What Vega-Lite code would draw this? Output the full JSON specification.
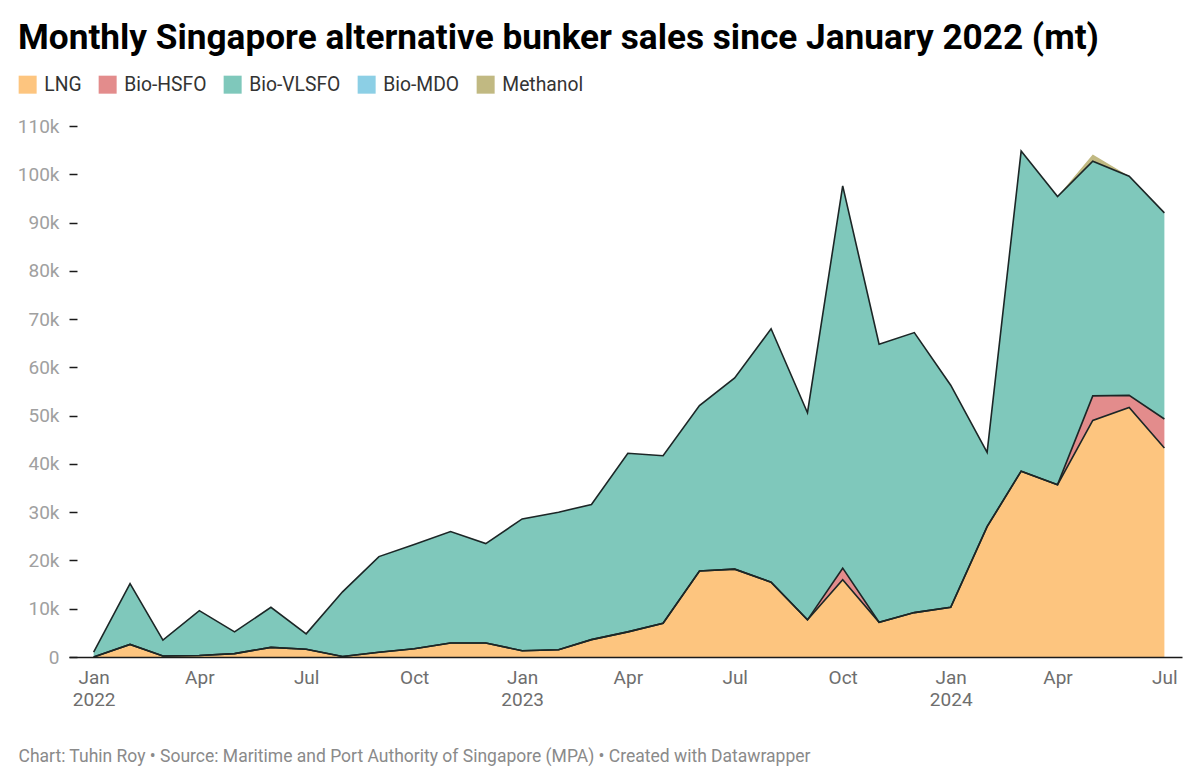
{
  "$schema": "https://vega.github.io/schema/vega-lite/v6.json",
  "width": 1113,
  "height": 531,
  "autosize": "none",
  "padding": {"left": 69, "top": 126, "right": 18, "bottom": 125},
  "background": "white",
  "config": {
    "view": {"stroke": null},
    "font": "Roboto"
  },
  "title": {
    "text": "Monthly Singapore alternative bunker sales since January 2022 (mt)",
    "anchor": "start",
    "frame": "group",
    "dx": -51,
    "font": "Roboto",
    "fontSize": 35.2,
    "fontWeight": "bold",
    "color": "#000000",
    "baseline": "alphabetic",
    "offset": -9
  },
  "data": {
    "values": [
      {"month": "2022-01-01", "LNG": 0, "Bio-HSFO": 0, "Bio-VLSFO": 1000, "Bio-MDO": 0, "Methanol": 0},
      {"month": "2022-02-01", "LNG": 2600, "Bio-HSFO": 0, "Bio-VLSFO": 12600, "Bio-MDO": 0, "Methanol": 0},
      {"month": "2022-03-01", "LNG": 200, "Bio-HSFO": 0, "Bio-VLSFO": 3300, "Bio-MDO": 0, "Methanol": 0},
      {"month": "2022-04-01", "LNG": 300, "Bio-HSFO": 0, "Bio-VLSFO": 9300, "Bio-MDO": 0, "Methanol": 0},
      {"month": "2022-05-01", "LNG": 700, "Bio-HSFO": 0, "Bio-VLSFO": 4500, "Bio-MDO": 0, "Methanol": 0},
      {"month": "2022-06-01", "LNG": 2000, "Bio-HSFO": 0, "Bio-VLSFO": 8300, "Bio-MDO": 0, "Methanol": 0},
      {"month": "2022-07-01", "LNG": 1600, "Bio-HSFO": 0, "Bio-VLSFO": 3200, "Bio-MDO": 0, "Methanol": 0},
      {"month": "2022-08-01", "LNG": 100, "Bio-HSFO": 0, "Bio-VLSFO": 13400, "Bio-MDO": 0, "Methanol": 0},
      {"month": "2022-09-01", "LNG": 1000, "Bio-HSFO": 0, "Bio-VLSFO": 19800, "Bio-MDO": 0, "Methanol": 0},
      {"month": "2022-10-01", "LNG": 1700, "Bio-HSFO": 0, "Bio-VLSFO": 21600, "Bio-MDO": 0, "Methanol": 0},
      {"month": "2022-11-01", "LNG": 2900, "Bio-HSFO": 0, "Bio-VLSFO": 23100, "Bio-MDO": 0, "Methanol": 0},
      {"month": "2022-12-01", "LNG": 2900, "Bio-HSFO": 0, "Bio-VLSFO": 20600, "Bio-MDO": 0, "Methanol": 0},
      {"month": "2023-01-01", "LNG": 1300, "Bio-HSFO": 0, "Bio-VLSFO": 27300, "Bio-MDO": 0, "Methanol": 0},
      {"month": "2023-02-01", "LNG": 1500, "Bio-HSFO": 0, "Bio-VLSFO": 28500, "Bio-MDO": 0, "Methanol": 0},
      {"month": "2023-03-01", "LNG": 3600, "Bio-HSFO": 0, "Bio-VLSFO": 28000, "Bio-MDO": 0, "Methanol": 0},
      {"month": "2023-04-01", "LNG": 5200, "Bio-HSFO": 0, "Bio-VLSFO": 37000, "Bio-MDO": 0, "Methanol": 0},
      {"month": "2023-05-01", "LNG": 7000, "Bio-HSFO": 0, "Bio-VLSFO": 34700, "Bio-MDO": 0, "Methanol": 0},
      {"month": "2023-06-01", "LNG": 17800, "Bio-HSFO": 0, "Bio-VLSFO": 34300, "Bio-MDO": 0, "Methanol": 0},
      {"month": "2023-07-01", "LNG": 18200, "Bio-HSFO": 0, "Bio-VLSFO": 39600, "Bio-MDO": 0, "Methanol": 0},
      {"month": "2023-08-01", "LNG": 15500, "Bio-HSFO": 0, "Bio-VLSFO": 52500, "Bio-MDO": 0, "Methanol": 0},
      {"month": "2023-09-01", "LNG": 7700, "Bio-HSFO": 0, "Bio-VLSFO": 42900, "Bio-MDO": 0, "Methanol": 0},
      {"month": "2023-10-01", "LNG": 16000, "Bio-HSFO": 2400, "Bio-VLSFO": 79200, "Bio-MDO": 0, "Methanol": 0},
      {"month": "2023-11-01", "LNG": 7200, "Bio-HSFO": 0, "Bio-VLSFO": 57600, "Bio-MDO": 0, "Methanol": 0},
      {"month": "2023-12-01", "LNG": 9200, "Bio-HSFO": 0, "Bio-VLSFO": 58000, "Bio-MDO": 0, "Methanol": 0},
      {"month": "2024-01-01", "LNG": 10300, "Bio-HSFO": 0, "Bio-VLSFO": 46000, "Bio-MDO": 0, "Methanol": 0},
      {"month": "2024-02-01", "LNG": 27000, "Bio-HSFO": 0, "Bio-VLSFO": 15400, "Bio-MDO": 0, "Methanol": 0},
      {"month": "2024-03-01", "LNG": 38500, "Bio-HSFO": 0, "Bio-VLSFO": 66300, "Bio-MDO": 0, "Methanol": 0},
      {"month": "2024-04-01", "LNG": 35700, "Bio-HSFO": 0, "Bio-VLSFO": 59700, "Bio-MDO": 0, "Methanol": 0},
      {"month": "2024-05-01", "LNG": 49000, "Bio-HSFO": 5100, "Bio-VLSFO": 48600, "Bio-MDO": 0, "Methanol": 1400},
      {"month": "2024-06-01", "LNG": 51700, "Bio-HSFO": 2500, "Bio-VLSFO": 45400, "Bio-MDO": 0, "Methanol": 0},
      {"month": "2024-07-01", "LNG": 43300, "Bio-HSFO": 6000, "Bio-VLSFO": 42700, "Bio-MDO": 0, "Methanol": 0}
    ]
  },
  "transform": [
    {"fold": ["LNG", "Bio-HSFO", "Bio-VLSFO", "Bio-MDO", "Methanol"], "as": ["fuel", "sales"]},
    {"stack": "sales", "groupby": ["month"], "as": ["s0", "s1"]}
  ],
  "encoding": {
    "x": {
      "field": "month",
      "type": "temporal",
      "scale": {
        "type": "utc",
        "domain": [
          {"year": 2021, "month": 12, "date": 11, "utc": true},
          {"year": 2024, "month": 7, "date": 16, "utc": true}
        ]
      },
      "axis": {
        "values": [
          {"year": 2022, "month": 1, "date": 1, "utc": true},
          {"year": 2022, "month": 4, "date": 1, "utc": true},
          {"year": 2022, "month": 7, "date": 1, "utc": true},
          {"year": 2022, "month": 10, "date": 1, "utc": true},
          {"year": 2023, "month": 1, "date": 1, "utc": true},
          {"year": 2023, "month": 4, "date": 1, "utc": true},
          {"year": 2023, "month": 7, "date": 1, "utc": true},
          {"year": 2023, "month": 10, "date": 1, "utc": true},
          {"year": 2024, "month": 1, "date": 1, "utc": true},
          {"year": 2024, "month": 4, "date": 1, "utc": true},
          {"year": 2024, "month": 7, "date": 1, "utc": true}
        ],
        "labelExpr": "utcFormat(datum.value, '%m') == '01' ? [utcFormat(datum.value, '%b'), utcFormat(datum.value, '%Y')] : utcFormat(datum.value, '%b')",
        "labelFont": "Roboto",
        "labelFontSize": 19,
        "labelColor": "#6e6e6e",
        "labelPadding": 11,
        "labelLineHeight": 22,
        "labelAlign": "center",
        "labelBaseline": "top",
        "labelFlush": false,
        "labelOverlap": false,
        "ticks": false,
        "grid": false,
        "domainColor": "#1a1a1a",
        "domainWidth": 1.5,
        "zindex": 1,
        "title": "Chart: Tuhin Roy • Source: Maritime and Port Authority of Singapore (MPA) • Created with Datawrapper",
        "titleFont": "Roboto",
        "titleFontSize": 17.5,
        "titleFontWeight": "normal",
        "titleColor": "#8a8a8a",
        "titleAnchor": "start",
        "titleAlign": "left",
        "titleBaseline": "alphabetic",
        "titleX": -51,
        "titleY": 104
      }
    }
  },
  "layer": [
    {
      "mark": {"type": "area", "interpolate": "linear", "opacity": 1},
      "encoding": {
        "y": {
          "field": "s1",
          "type": "quantitative",
          "scale": {"domain": [0, 110000], "nice": false},
          "axis": {
            "values": [0, 10000, 20000, 30000, 40000, 50000, 60000, 70000, 80000, 90000, 100000, 110000],
            "labelExpr": "datum.value == 0 ? '0' : (datum.value / 1000) + 'k'",
            "labelFont": "Roboto",
            "labelFontSize": 19,
            "labelColor": "#a0a0a0",
            "labelPadding": 10,
            "offset": -8,
            "tickSize": 8,
            "tickWidth": 1.5,
            "tickColor": "#1a1a1a",
            "domain": false,
            "grid": false,
            "title": null
          }
        },
        "y2": {"field": "s0"},
        "color": {
          "field": "fuel",
          "type": "nominal",
          "scale": {
            "domain": ["LNG", "Bio-HSFO", "Bio-VLSFO", "Bio-MDO", "Methanol"],
            "range": ["#fdc57f", "#e38c8c", "#7fc8bb", "#8ccfe5", "#c1b982"]
          },
          "legend": {
            "orient": "none",
            "legendX": -51,
            "legendY": -51,
            "direction": "horizontal",
            "title": null,
            "symbolType": "square",
            "symbolSize": 324,
            "symbolOpacity": 1,
            "symbolStrokeWidth": 0,
            "labelFont": "Roboto",
            "labelFontSize": 19.3,
            "labelColor": "#333333",
            "labelOffset": 7,
            "columnPadding": 16
          }
        }
      }
    },
    {
      "transform": [
        {"filter": {"field": "fuel", "oneOf": ["LNG", "Bio-HSFO", "Bio-VLSFO"]}}
      ],
      "mark": {"type": "line", "interpolate": "linear", "color": "#1c2626", "strokeWidth": 1.6},
      "encoding": {
        "y": {"field": "s1", "type": "quantitative"},
        "detail": {"field": "fuel", "type": "nominal"}
      }
    }
  ]
}
